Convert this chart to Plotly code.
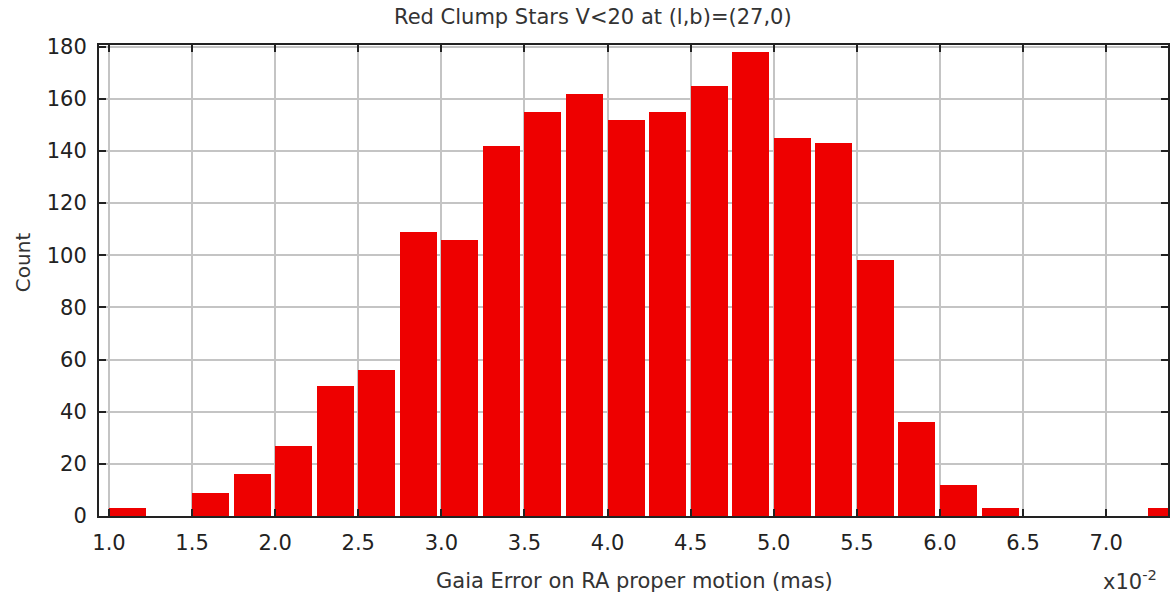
import plotly.graph_objects as go

# Histogram bins (lower edges, in units of 1e-2 mas) and star counts
bin_starts = [1.00, 1.25, 1.50, 1.75, 2.00, 2.25, 2.50, 2.75, 3.00, 3.25,
              3.50, 3.75, 4.00, 4.25, 4.50, 4.75, 5.00, 5.25, 5.50, 5.75,
              6.00, 6.25, 6.50, 6.75, 7.00, 7.25]
counts = [3, 0, 9, 16, 27, 50, 56, 109, 106, 142,
          155, 162, 152, 155, 165, 178, 145, 143, 98, 36,
          12, 3, 0, 0, 0, 3]
bin_width = 0.25

x_ticks = [1.0, 1.5, 2.0, 2.5, 3.0, 3.5, 4.0, 4.5, 5.0, 5.5, 6.0, 6.5, 7.0]
x_tick_labels = ["1.0", "1.5", "2.0", "2.5", "3.0", "3.5", "4.0", "4.5",
                 "5.0", "5.5", "6.0", "6.5", "7.0"]
y_ticks = [0, 20, 40, 60, 80, 100, 120, 140, 160, 180]

title_text = "Red Clump Stars V<20 at (l,b)=(27,0)"
x_title = "Gaia Error on RA proper motion (mas)"
y_title = "Count"
x_scale_text = "x10<sup>-2</sup>"

FONT = "DejaVu Sans"
BAR_RED = "#ee0000"
INK = "#222222"
LABEL_INK = "#333333"

fig = go.Figure()
fig.add_trace(go.Bar(
    x=bin_starts,
    y=counts,
    width=bin_width * 0.89,
    offset=0,
    marker=dict(color=BAR_RED, line=dict(width=0)),
    hoverinfo="x+y",
))

axis_common = dict(
    showline=True, linecolor=INK, linewidth=2, mirror="ticks",
    ticks="inside", ticklen=7, tickwidth=2, tickcolor=INK,
    showgrid=True, gridcolor="#c4c4c4", gridwidth=1.5,
    zeroline=False,
    tickfont=dict(family=FONT, size=21, color=INK),
)

fig.update_layout(
    width=1170, height=602,
    margin=dict(l=99, r=0, t=45, b=86),
    paper_bgcolor="white", plot_bgcolor="white",
    showlegend=False,
    bargap=0,
    font=dict(family=FONT, color=INK),
    xaxis=dict(
        range=[0.94, 7.372],
        tickmode="array", tickvals=x_ticks, ticktext=x_tick_labels,
        ticklabelstandoff=7,
        **axis_common,
    ),
    yaxis=dict(
        range=[0, 180.6],
        tickmode="array", tickvals=y_ticks,
        ticklabelstandoff=6,
        **axis_common,
    ),
    annotations=[
        dict(text=title_text, x=594, y=17, showarrow=False,
             font=dict(family=FONT, size=21, color=LABEL_INK)),
        dict(text=x_title, x=636, y=581, showarrow=False,
             font=dict(family=FONT, size=21, color=LABEL_INK)),
        dict(text=x_scale_text, x=1132, y=580, showarrow=False,
             font=dict(family=FONT, size=21, color=LABEL_INK)),
        dict(text=y_title, x=23, y=262, textangle=-90, showarrow=False,
             font=dict(family=FONT, size=20, color=LABEL_INK)),
    ],
)

# Place the text annotations in pixel coordinates of the page
W, H = 1170, 602
L, R, T, B = 99, 0, 45, 86
pw, ph = W - L - R, H - T - B
for ann in fig.layout.annotations:
    px, py = ann.x, ann.y
    ann.xref = "paper"
    ann.yref = "paper"
    ann.x = (px - L) / pw
    ann.y = 1 - (py - T) / ph
    ann.xanchor = "center"
    ann.yanchor = "middle"

fig.write_html("out.html")
